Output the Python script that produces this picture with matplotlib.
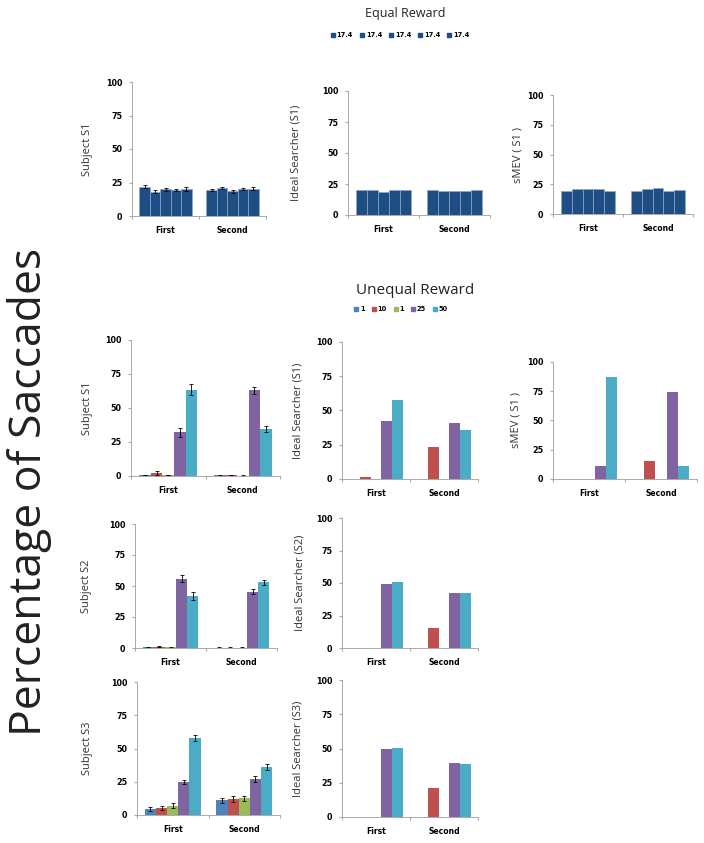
import matplotlib
matplotlib.use('Agg')
import matplotlib.pyplot as plt
import numpy as np
from matplotlib.patches import Patch

categories = ['First', 'Second']
equal_labels = ['17.4', '17.4', '17.4', '17.4', '17.4']
unequal_labels = ['1', '10', '1', '25', '50']

# rows: First, Second ; columns: the five reward locations
eq_subj_s1 = [[22, 18, 20, 19.5, 20.5], [19.5, 21, 18.5, 20, 20.5]]
eq_subj_s1_err = [[0.8, 1.2, 1.0, 0.8, 1.5], [0.8, 0.8, 1.0, 0.8, 1.2]]
eq_ideal_s1 = [[20, 20.5, 18.5, 20, 20], [20.5, 19.5, 19.5, 19, 20.5]]
eq_smev_s1 = [[19.5, 21, 21, 21, 19.5], [19.5, 21, 21.5, 19.5, 20.5]]

un_subj_s1 = [[0.8, 2.5, 0.8, 32, 63.5], [0.5, 0.8, 0.3, 63, 34.5]]
un_subj_s1_err = [[0.3, 1.5, 0.3, 3, 4], [0.3, 0.3, 0.2, 2.5, 2]]
un_ideal_s1 = [[0, 1.5, 0, 42, 57.5], [0, 23, 0, 41, 36]]
un_smev_s1 = [[0, 0, 0, 11, 87.5], [0, 15, 0, 74, 11]]

un_subj_s2 = [[0.5, 1, 0.5, 56, 42], [0.3, 0.3, 0.3, 45.5, 53]]
un_subj_s2_err = [[0.3, 0.5, 0.3, 2.5, 3], [0.2, 0.2, 0.2, 2, 2]]
un_ideal_s2 = [[0, 0, 0, 49, 50.5], [0, 15.5, 0, 42, 42.5]]

un_subj_s3 = [[4.5, 5, 7, 25, 58], [11, 12, 12.5, 27, 36]]
un_subj_s3_err = [[1.5, 1.5, 2, 1.5, 2], [2, 2, 2, 2, 2.5]]
un_ideal_s3 = [[0, 0, 0, 49.5, 50.5], [0, 21, 0, 39.5, 38.5]]

eq_color = '#1f4e84'
un_colors = ['#4f81bd', '#c0504d', '#9bbb59', '#8064a2', '#4bacc6']

W, H = 704, 843
fig = plt.figure(figsize=(W / 100, H / 100), dpi=100)


def make_ax(l, t, r, b):
    return fig.add_axes([l / W, 1 - b / H, (r - l) / W, (b - t) / H])


def panel(ax, vals, colors, ylabel, label_x, errs=None, edge='none'):
    x = np.arange(len(categories)) + 0.5
    w = 0.156
    for i in range(5):
        v = [vals[0][i], vals[1][i]]
        e = None if errs is None else [errs[0][i], errs[1][i]]
        ax.bar(x + (i - 2) * w, v, w, color=colors[i], edgecolor=edge, linewidth=0.5,
               yerr=e, error_kw=dict(ecolor='black', elinewidth=0.6, capsize=1.5, capthick=0.6))
    ax.set_xlim(0, 2)
    ax.set_ylim(0, 100)
    ax.set_yticks([0, 25, 50, 75, 100])
    ax.set_xticks([0, 1, 2])
    ax.set_xticklabels([])
    ax.set_xticks(x, minor=True)
    ax.set_xticklabels(categories, minor=True, fontsize=5.5, fontweight='bold')
    ax.tick_params(axis='x', which='minor', length=0, pad=7)
    ax.tick_params(axis='x', which='major', length=2, color='#aaaaaa')
    ax.tick_params(axis='y', length=2, color='#aaaaaa', labelsize=5.8, pad=5)
    for t in ax.get_yticklabels():
        t.set_fontweight('bold')
    for s in ['top', 'right']:
        ax.spines[s].set_visible(False)
    for s in ['left', 'bottom']:
        ax.spines[s].set_color('#aaaaaa')
        ax.spines[s].set_linewidth(0.7)
    ax.set_ylabel(ylabel, fontsize=8, color='#333333', family='Open Sans')
    pos = ax.get_position()
    lx = (label_x / W - pos.x0) / pos.width
    ax.yaxis.set_label_coords(lx, 0.5)


eq_cols = [eq_color] * 5

ax = make_ax(132, 82, 266, 216)
panel(ax, eq_subj_s1, eq_cols, 'Subject S1', 93, errs=eq_subj_s1_err, edge='#8fa6c8')
ax = make_ax(348, 91, 490, 215)
panel(ax, eq_ideal_s1, eq_cols, 'Ideal Searcher (S1)', 302, edge='#8fa6c8')
ax = make_ax(553, 95, 693, 214)
panel(ax, eq_smev_s1, eq_cols, 'sMEV ( S1 )', 523, edge='#8fa6c8')

ax = make_ax(131, 340, 280, 476)
panel(ax, un_subj_s1, un_colors, 'Subject S1', 93, errs=un_subj_s1_err)
ax = make_ax(342, 342, 478, 479)
panel(ax, un_ideal_s1, un_colors, 'Ideal Searcher (S1)', 303)
ax = make_ax(553, 362, 697, 479)
panel(ax, un_smev_s1, un_colors, 'sMEV ( S1 )', 522)

ax = make_ax(135, 524, 277, 648)
panel(ax, un_subj_s2, un_colors, 'Subject S2', 92, errs=un_subj_s2_err)
ax = make_ax(342, 518, 478, 648)
panel(ax, un_ideal_s2, un_colors, 'Ideal Searcher (S2)', 305)

ax = make_ax(137, 682, 280, 815)
panel(ax, un_subj_s3, un_colors, 'Subject S3', 93, errs=un_subj_s3_err)
ax = make_ax(342, 680, 478, 817)
panel(ax, un_ideal_s3, un_colors, 'Ideal Searcher (S3)', 303)

fig.text(405 / W, 1 - 13 / H, 'Equal Reward', ha='center', va='center', fontsize=9,
         color='#222222', family='Open Sans')
fig.text(415 / W, 1 - 290 / H, 'Unequal Reward', ha='center', va='center', fontsize=11,
         color='#222222', family='Open Sans')
fig.text(30 / W, 1 - 492 / H, 'Percentage of Saccades', rotation=90, ha='center', va='center',
         fontsize=32, color='#222222', family='Open Sans')

h_eq = [Patch(color=eq_color) for _ in equal_labels]
fig.legend(h_eq, equal_labels, loc='center', bbox_to_anchor=(400 / W, 1 - 35 / H), ncol=5,
           frameon=False, prop=dict(size=4.8, weight='bold'), handlelength=0.6, handleheight=0.6,
           handletextpad=0.3, columnspacing=1.0)
h_un = [Patch(color=c) for c in un_colors]
fig.legend(h_un, unequal_labels, loc='center', bbox_to_anchor=(401 / W, 1 - 309 / H), ncol=5,
           frameon=False, prop=dict(size=4.8, weight='bold'), handlelength=0.6, handleheight=0.6,
           handletextpad=0.3, columnspacing=1.0)

fig.savefig('out.png', dpi=100)
plt.close(fig)
